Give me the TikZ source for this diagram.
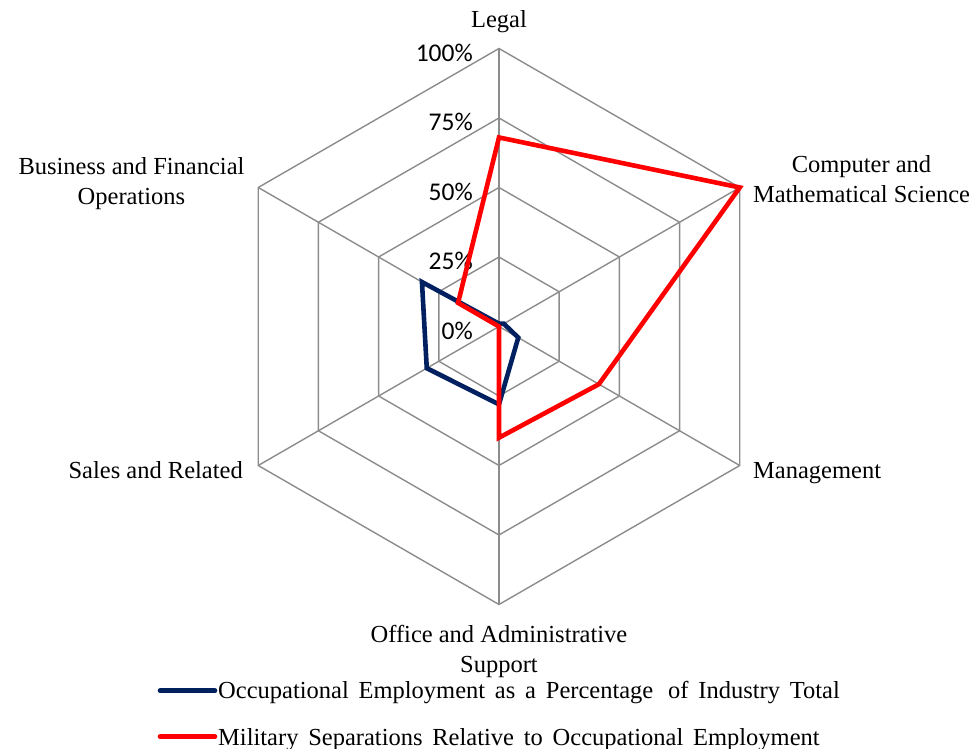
\documentclass[tikz,border=0pt]{standalone}
\usepackage{fontspec}
\setmainfont{Liberation Serif}
\newfontfamily\tickfont{Carlito}
\newcommand\legendfont{\fontsize{24.5}{30}\selectfont\spaceskip=9.8pt\relax}

\definecolor{gridgray}{RGB}{140,140,140}
\definecolor{occblue}{RGB}{0,32,96}
\definecolor{milred}{RGB}{255,0,0}

\tikzset{
  grid line/.style={gridgray, line width=1.4pt},
  series/.style={line width=4.6pt, line join=miter},
  axis label/.style={inner sep=0pt, align=center, font=\fontsize{24.5}{30}\selectfont},
  tick label/.style={anchor=east, inner sep=0pt, font=\tickfont\fontsize{25.5}{28}\selectfont},
  legend text/.style={anchor=base west, inner sep=0pt, font=\legendfont},
}

\begin{document}
\begin{tikzpicture}[x=1pt, y=1pt]
        \useasboundingbox (-499,-422.5) rectangle (481,326.5);
        \def\R{278}
        % hexagon rings and spokes
        \foreach \r in {0.25,0.5,0.75,1}
          \draw[grid line] (90:{\r*\R}) -- (30:{\r*\R}) -- (-30:{\r*\R})
            -- (-90:{\r*\R}) -- (-150:{\r*\R}) -- (150:{\r*\R}) -- cycle;
        \coordinate (centre) at (0,0);
        \foreach \a/\n in {90/legal,30/comp,-30/mgmt,-90/office,-150/sales,150/busi} {
          \coordinate (\n) at (\a:\R);
          \draw[grid line] (centre) -- (\n);
        }
        % scale labels
        \foreach \v/\t [count=\k] in {0/0\%,0.25/25\%,0.5/50\%,0.75/75\%,1/100\%}
          \node[tick label] (tick\k) at (-26,{\v*\R-4}) {\t};
        % data
        \foreach \a/\b/\m [count=\i] in {90/0.01/0.68, 30/0.02/1.0, -30/0.08/0.415,
            -90/0.28/0.40, -150/0.30/0.0, 150/0.32/0.17} {
          \coordinate (occ\i) at (\a:{\b*\R});
          \coordinate (mil\i) at (\a:{\m*\R});
        }
        \draw[series, occblue] (occ1) -- (occ2) -- (occ3) -- (occ4) -- (occ5) -- (occ6) -- cycle;
        \draw[series, milred] (mil1) -- (mil2) -- (mil3) -- (mil4) -- (mil5) -- (mil6) -- cycle;
        % category labels (base = last line)
        \node[axis label, anchor=base] (legal label) at (0,298.5) {Legal};
        \node[axis label, anchor=base] (comp label) at (362.5,123.5)
          {Computer and\\Mathematical Science};
        \node[axis label, anchor=base west] (mgmt label) at (254,-152.5) {Management};
        \node[axis label, anchor=base] (office label) at (0,-345.5)
          {Office and Administrative\\Support};
        \node[axis label, anchor=base east] (sales label) at (-256,-152.5) {Sales and Related};
        \node[axis label, anchor=base] (busi label) at (-367.5,121.5)
          {Business and Financial\\Operations};
        % legend
        \node[legend text] (occ legend) at (-281,-371.5)
          {Occupational Employment as a Percentage\hspace{5pt} of Industry Total};
        \node[legend text] (mil legend) at (-281,-418.5)
          {Military Separations Relative to Occupational Employment};
        \coordinate (occ key) at (-339,-364.2);
        \coordinate (mil key) at (-339,-410.2);
        \draw[series, occblue, line cap=round] (occ key) -- ++(55,0);
        \draw[series, milred, line cap=round] (mil key) -- ++(55,0);
      \end{tikzpicture}
\end{document}
